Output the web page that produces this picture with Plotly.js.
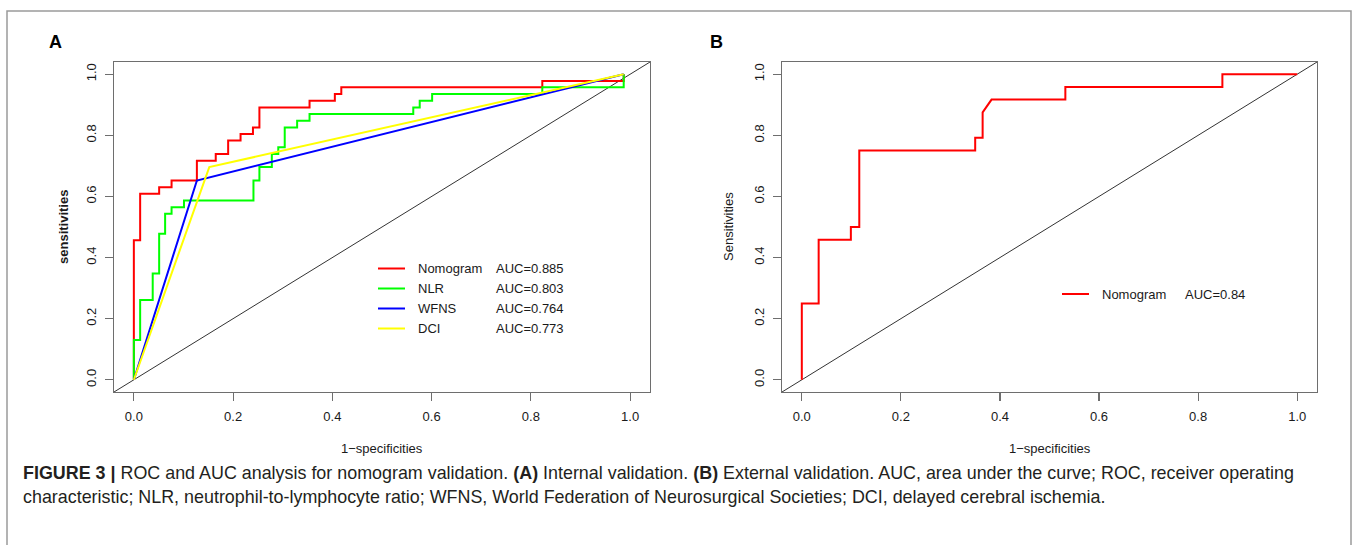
<!DOCTYPE html>
<html>
<head>
<meta charset="utf-8">
<script src="https://cdn.plot.ly/plotly-3.0.1.min.js"></script>
<style>html,body{margin:0;padding:0;background:#fff;}#chart{width:1358px;height:545px;}</style>
</head>
<body>
<div id="chart"></div>
<script>
// ---- Data ----
// Panel A: internal validation ROC curves (1-specificity, sensitivity)
const seriesNamesA = ["Nomogram", "NLR", "WFNS", "DCI"];
const aucA = ["0.885", "0.803", "0.764", "0.773"];
const colorsA = ["#FF0000", "#00FF00", "#0000FF", "#FFFF00"];

const nomoA_fpr = [0,0,0.0127,0.0127,0.051,0.051,0.076,0.076,0.127,0.127,0.165,0.165,0.190,0.190,0.215,0.215,0.240,0.240,0.253,0.253,0.354,0.354,0.405,0.405,0.418,0.418,0.823,0.823,0.987,0.987];
const nomoA_tpr = [0,0.457,0.457,0.609,0.609,0.630,0.630,0.652,0.652,0.717,0.717,0.739,0.739,0.783,0.783,0.804,0.804,0.826,0.826,0.891,0.891,0.913,0.913,0.935,0.935,0.957,0.957,0.978,0.978,1.0];

const nlrA_fpr = [0,0,0.0127,0.0127,0.038,0.038,0.051,0.051,0.063,0.063,0.076,0.076,0.101,0.101,0.241,0.241,0.253,0.253,0.278,0.278,0.291,0.291,0.304,0.304,0.329,0.329,0.354,0.354,0.563,0.563,0.576,0.576,0.601,0.601,0.823,0.823,0.987,0.987];
const nlrA_tpr = [0,0.130,0.130,0.261,0.261,0.348,0.348,0.478,0.478,0.543,0.543,0.565,0.565,0.587,0.587,0.652,0.652,0.696,0.696,0.739,0.739,0.761,0.761,0.826,0.826,0.848,0.848,0.870,0.870,0.891,0.891,0.913,0.913,0.935,0.935,0.957,0.957,1.0];

const wfnsA_fpr = [0, 0.127, 0.987];
const wfnsA_tpr = [0, 0.652, 1.0];

const dciA_fpr = [0, 0.152, 0.987];
const dciA_tpr = [0, 0.696, 1.0];

// Panel B: external validation ROC curve
const seriesNamesB = ["Nomogram"];
const aucB = ["0.84"];
const colorsB = ["#FF0000"];
const nomoB_fpr = [0,0,0.034,0.034,0.099,0.099,0.116,0.116,0.350,0.350,0.365,0.365,0.383,0.532,0.532,0.849,0.849,1.0];
const nomoB_tpr = [0,0.250,0.250,0.458,0.458,0.500,0.500,0.750,0.750,0.792,0.792,0.875,0.917,0.917,0.958,0.958,1.0,1.0];

// Axis ticks
const tickVals = [0, 0.2, 0.4, 0.6, 0.8, 1.0];
const tickText = ["0.0", "0.2", "0.4", "0.6", "0.8", "1.0"];

// ---- Layout helpers ----
const W = 1358, H = 545;
const px = v => v / W;
const py = v => 1 - v / H;
const FONT = "Liberation Sans, Arial, Helvetica, sans-serif";

const traces = [];
const A = [[nomoA_fpr, nomoA_tpr], [nlrA_fpr, nlrA_tpr], [wfnsA_fpr, wfnsA_tpr], [dciA_fpr, dciA_tpr]];
A.forEach((d, i) => {
  traces.push({x: d[0], y: d[1], type: "scatter", mode: "lines", name: seriesNamesA[i],
    line: {color: colorsA[i], width: 2}, xaxis: "x", yaxis: "y", showlegend: false, hoverinfo: "skip"});
});
traces.push({x: nomoB_fpr, y: nomoB_tpr, type: "scatter", mode: "lines", name: seriesNamesB[0],
  line: {color: colorsB[0], width: 2}, xaxis: "x2", yaxis: "y2", showlegend: false, hoverinfo: "skip"});

const axisCommon = {
  range: [-0.04, 1.04], showgrid: false, zeroline: false,
  showline: true, mirror: true, linecolor: "#6e6e6e", linewidth: 1.3,
  ticks: "outside", ticklen: 8, tickwidth: 1.2, tickcolor: "#6e6e6e",
  tickvals: tickVals, ticktext: tickText,
  tickfont: {family: FONT, size: 13, color: "#1a1a1a"}, fixedrange: true
};
const yDom = [py(392), py(62)];

const layout = {
  width: W, height: H,
  margin: {l: 0, r: 0, t: 0, b: 0},
  paper_bgcolor: "#fff", plot_bgcolor: "#fff",
  font: {family: FONT, size: 13, color: "#1a1a1a"},
  showlegend: false,
  xaxis: Object.assign({}, axisCommon, {domain: [px(114), px(650)], anchor: "y", ticklabelstandoff: 4}),
  yaxis: Object.assign({}, axisCommon, {domain: yDom, anchor: "x", tickangle: -90, ticklabelstandoff: 4}),
  xaxis2: Object.assign({}, axisCommon, {domain: [px(782), px(1317)], anchor: "y2", ticklabelstandoff: 4}),
  yaxis2: Object.assign({}, axisCommon, {domain: yDom, anchor: "x2", tickangle: -90, ticklabelstandoff: 4}),
  shapes: [],
  annotations: []
};

// diagonal reference lines
[["x", "y"], ["x2", "y2"]].forEach(r => {
  layout.shapes.push({type: "line", xref: r[0], yref: r[1], x0: -0.04, y0: -0.04, x1: 1.04, y1: 1.04,
    line: {color: "#333", width: 1}, layer: "below"});
});

// outer frame
layout.shapes.push({type: "rect", xref: "paper", yref: "paper", x0: px(7), x1: px(1351), y0: -0.05, y1: py(11),
  line: {color: "#9a9a9a", width: 1.5}});

// legend A
const legRowsA = [268.5, 288.5, 308.5, 328.5];
seriesNamesA.forEach((n, i) => {
  layout.shapes.push({type: "line", xref: "paper", yref: "paper", x0: px(378), x1: px(405), y0: py(legRowsA[i]), y1: py(legRowsA[i]),
    line: {color: colorsA[i], width: 2}});
  layout.annotations.push({xref: "paper", yref: "paper", x: px(416), y: py(legRowsA[i]), xanchor: "left", yanchor: "middle",
    text: n, showarrow: false, font: {family: FONT, size: 13, color: "#1a1a1a"}});
  layout.annotations.push({xref: "paper", yref: "paper", x: px(494), y: py(legRowsA[i]), xanchor: "left", yanchor: "middle",
    text: "AUC=" + aucA[i], showarrow: false, font: {family: FONT, size: 13, color: "#1a1a1a"}});
});
// legend B
layout.shapes.push({type: "line", xref: "paper", yref: "paper", x0: px(1062), x1: px(1089), y0: py(294), y1: py(294),
  line: {color: colorsB[0], width: 2}});
layout.annotations.push({xref: "paper", yref: "paper", x: px(1100), y: py(294), xanchor: "left", yanchor: "middle",
  text: seriesNamesB[0], showarrow: false, font: {family: FONT, size: 13, color: "#1a1a1a"}});
layout.annotations.push({xref: "paper", yref: "paper", x: px(1183), y: py(294), xanchor: "left", yanchor: "middle",
  text: "AUC=" + aucB[0], showarrow: false, font: {family: FONT, size: 13, color: "#1a1a1a"}});

// axis titles
const ann = (x, y, text, opts) => layout.annotations.push(Object.assign({xref: "paper", yref: "paper", x: px(x), y: py(y),
  xanchor: "center", yanchor: "middle", text: text, showarrow: false, font: {family: FONT, size: 13, color: "#1a1a1a"}}, opts || {}));
ann(382, 448, "1\u2212specificities");
ann(1050, 448, "1\u2212specificities");
ann(63, 227, "<b>sensitivities</b>", {textangle: -90});
ann(728, 227, "Sensitivities", {textangle: -90});
// panel labels
ann(55, 42, "<b>A</b>", {font: {family: FONT, size: 18, color: "#000"}});
ann(716, 42, "<b>B</b>", {font: {family: FONT, size: 18, color: "#000"}});

// caption
const CAPFONT = "Liberation Sans, Arial, sans-serif";
ann(21, 473, "<b>FIGURE 3 |</b> ROC and AUC analysis for nomogram validation. <b>(A)</b> Internal validation. <b>(B)</b> External validation. AUC, area under the curve; ROC, receiver operating",
  {xanchor: "left", font: {family: CAPFONT, size: 17.9, color: "#231f20"}});
ann(21, 497, "characteristic; NLR, neutrophil-to-lymphocyte ratio; WFNS, World Federation of Neurosurgical Societies; DCI, delayed cerebral ischemia.",
  {xanchor: "left", font: {family: CAPFONT, size: 17.9, color: "#231f20"}});

Plotly.newPlot("chart", traces, layout, {staticPlot: true, displayModeBar: false});
</script>
</body>
</html>
